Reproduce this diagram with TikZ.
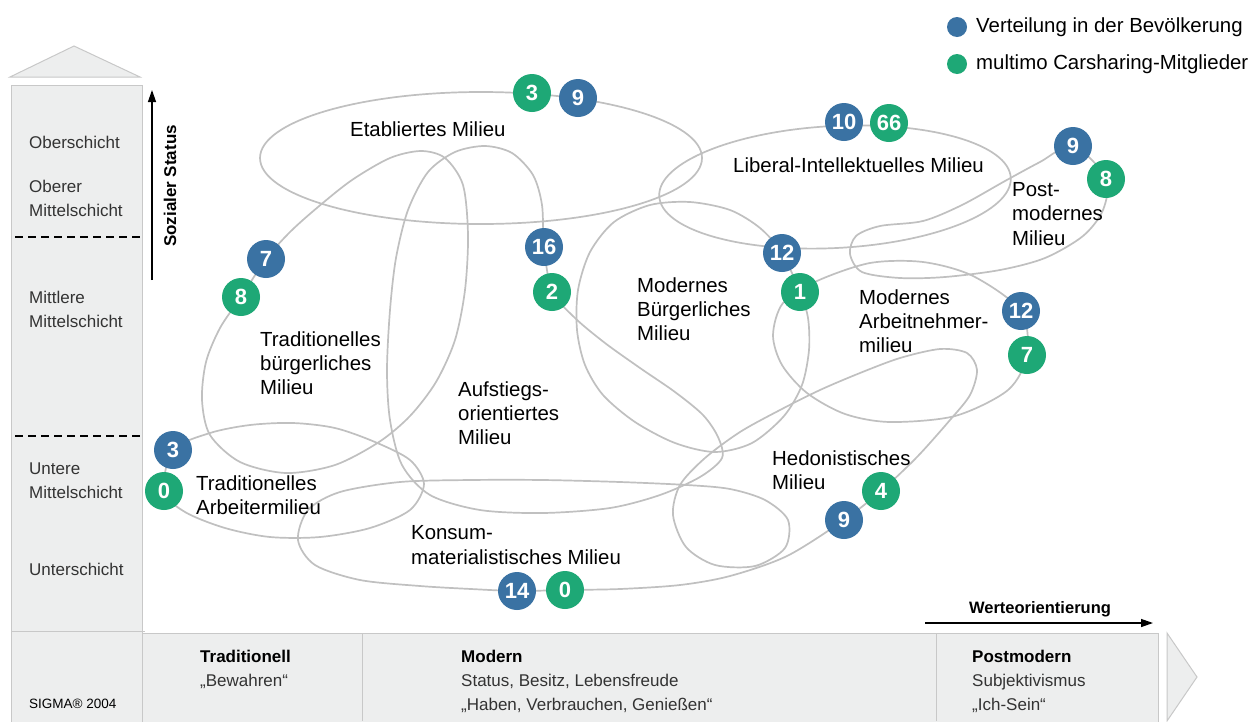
\documentclass[tikz,border=0pt]{standalone}
\usepackage{fontspec}
\setmainfont{Liberation Sans}
\usetikzlibrary{arrows.meta}
\definecolor{cblue}{RGB}{58,114,163}
\definecolor{cgreen}{RGB}{30,168,118}
\definecolor{panel}{RGB}{237,238,238}
\definecolor{panelline}{RGB}{200,200,200}
\definecolor{loopc}{RGB}{192,192,192}
\definecolor{sidetext}{RGB}{51,51,51}
\begin{document}
\begin{tikzpicture}[x=1pt,y=-1pt,
  milieuline/.style={draw=loopc, line width=1.7pt},
  num/.style={circle, minimum size=38pt, inner sep=0pt, text=white, font=\bfseries\fontsize{22}{22}\selectfont},
  bnum/.style={num, fill=cblue},
  gnum/.style={num, fill=cgreen},
  lbl/.style={anchor=west, align=left, inner sep=0pt, font=\fontsize{20.4}{24.2}\selectfont},
  side/.style={anchor=west, align=left, inner sep=0pt, text=sidetext, font=\fontsize{17}{24.5}\selectfont},
  band/.style={anchor=west, align=left, inner sep=0pt, text=sidetext, font=\fontsize{17}{24}\selectfont},
  panelbox/.style={fill=panel, draw=panelline, line width=1pt},
  axis/.style={line width=1.3pt, -{Triangle[length=12pt,width=8pt]}},
  legdot/.style={circle, minimum size=20pt, inner sep=0pt}
]
\useasboundingbox (0,0) rectangle (1260,721);
\fill[white] (0,0) rectangle (1260,721);

% left column
\draw[panelbox] (10,77) -- (74,46) -- (140,77) -- cycle;
\draw[panelbox] (11,85) rectangle (142,726);
\draw[panelline, line width=1pt] (11,631) -- (145,631);
\draw[black, line width=1.6pt, dash pattern=on 8pt off 5pt] (15,237) -- (142,237);
\draw[black, line width=1.6pt, dash pattern=on 8pt off 5pt] (15,436) -- (142,436);
\node[side] (ober) at (29,142) {Oberschicht};
\node[side] (oberer) at (29,198.5) {Oberer\\Mittelschicht};
\node[side] (mittlere) at (29,309.5) {Mittlere\\Mittelschicht};
\node[side] (untere) at (29,480.5) {Untere\\Mittelschicht};
\node[side] (unter) at (29,569) {Unterschicht};
\node[side, font=\fontsize{13.5}{16}\selectfont, text=black] (sigma) at (29,704) {SIGMA® 2004};

% vertical axis
\coordinate (vs) at (152,280);
\coordinate (ve) at (152,90);
\draw[axis] (vs) -- (ve);
\node[rotate=90, inner sep=0pt, font=\bfseries\fontsize{17}{20}\selectfont] (sozial) at (170,186) {Sozialer Status};

% bottom band
\draw[panelbox] (142,633) rectangle (1158,726);
\draw[panelline, line width=1pt] (362,633) -- (362,721);
\draw[panelline, line width=1pt] (936,633) -- (936,721);
\draw[panelbox] (1167,633) -- (1197,677) -- (1167,721) -- cycle;
\node[band] (trad) at (200,669) {\textcolor{black}{\bfseries Traditionell}\\„Bewahren“};
\node[band] (modern) at (461,681) {\textcolor{black}{\bfseries Modern}\\Status, Besitz, Lebensfreude\\„Haben, Verbrauchen, Genießen“};
\node[band] (postm) at (972,681) {\textcolor{black}{\bfseries Postmodern}\\Subjektivismus\\„Ich-Sein“};
\coordinate (hs) at (925,623);
\coordinate (he) at (1153,623);
\draw[axis] (hs) -- (he);
\node[inner sep=0pt, font=\bfseries\fontsize{16.5}{20}\selectfont] (werte) at (1040,609) {Werteorientierung};

% legend
\node[legdot, fill=cblue] (lb) at (957,27) {};
\node[legdot, fill=cgreen] (lg) at (957,64) {};
\node[lbl] (lbt) at (976,27) {Verteilung in der Bevölkerung};
\node[lbl] (lgt) at (976,64) {multimo Carsharing-Mitglieder};

% milieu loops
\draw[milieuline] (481,158) ellipse [x radius=221, y radius=66];
\draw[milieuline, rotate around={3:(835,187)}] (835,187) ellipse [x radius=176, y radius=61];
% traditionelles buergerliches
\draw[milieuline] plot[smooth cycle] coordinates {(266,259) (241,297) (220,328) (206,362) (202,400) (210,435) (240,462) (286,473) (335,465) (379,442) (410,416) (436,382) (455,340) (465,290) (468,235) (463,185) (445,158) (421,151) (390,158) (352,180) (318,207) (290,232)};
% aufstiegsorientiert
\draw[milieuline] plot[smooth cycle] coordinates {(544,247) (552,291) (575,318) (605,343) (640,368) (675,392) (703,415) (718,437) (722,458) (700,477) (660,495) (610,508) (543,513) (480,510) (430,495) (402,465) (390,420) (387,370) (390,310) (396,258) (408,210) (428,172) (455,152) (485,146) (512,153) (533,175) (542,205)};
% modernes buergerliches
\draw[milieuline] plot[smooth cycle] coordinates {(782,253) (760,228) (730,210) (690,202) (650,205) (614,222) (590,252) (578,290) (577,330) (585,365) (603,395) (635,422) (675,443) (715,452) (752,443) (784,416) (802,385) (809,350) (808,318) (800,292)};
% modernes arbeitnehmer
\draw[milieuline] plot[smooth cycle] coordinates {(783,303) (817,281) (870,263) (923,262) (973,276) (1021,311) (1027,355) (1008,390) (955,416) (890,422) (845,414) (807,393) (782,365) (773,335)};
% postmodern
\draw[milieuline] plot[smooth cycle] coordinates {(1073,146) (1040,162) (1005,181) (962,205) (923,221) (880,226) (856,236) (850,254) (862,272) (900,278) (945,277) (1000,270) (1045,258) (1083,236) (1103,210) (1106,178)};
% traditionelles arbeiter
\draw[milieuline] plot[smooth cycle] coordinates {(173,450) (210,433) (250,425) (293,423) (335,428) (375,442) (410,460) (424,484) (410,510) (370,528) (320,537) (270,537) (225,528) (185,512) (164,491)};
% konsum / hedonistisch
\draw[milieuline] plot[smooth cycle] coordinates {(517,591) (565,590) (620,589) (680,585) (730,576) (787,556) (844,520) (881,491) (917,457) (950,420) (970,395) (977,370) (967,353) (940,349) (900,358) (860,373) (820,390) (780,410) (740,432) (705,458) (680,485) (673,515) (686,547) (715,565) (755,566) (785,548) (788,520) (765,500) (730,489) (687,485) (620,482) (543,480) (470,480) (400,482) (340,492) (308,510) (298,540) (315,565) (360,580) (420,586) (471,589)};

% labels
\node[lbl] (etab) at (350,129) {Etabliertes Milieu};
\node[lbl] (lib) at (733,165) {Liberal-Intellektuelles Milieu};
\node[lbl] (post) at (1012,214) {Post-\\modernes\\Milieu};
\node[lbl] (mbm) at (637,309) {Modernes\\Bürgerliches\\Milieu};
\node[lbl] (mam) at (859,321) {Modernes\\Arbeitnehmer-\\milieu};
\node[lbl] (tbm) at (260,363) {Traditionelles\\bürgerliches\\Milieu};
\node[lbl] (aom) at (458,413) {Aufstiegs-\\orientiertes\\Milieu};
\node[lbl] (hed) at (772,470) {Hedonistisches\\Milieu};
\node[lbl] (tam) at (196,495) {Traditionelles\\Arbeitermilieu};
\node[lbl] (kon) at (411,545) {Konsum-\\materialistisches Milieu};

% circles
\node[gnum] (e3) at (532,93) {3};
\node[bnum] (e9) at (578,98) {9};
\node[bnum] (l10) at (844,122) {10};
\node[gnum] (l66) at (889,123) {66};
\node[bnum] (p9) at (1073,146) {9};
\node[gnum] (p8) at (1106,179) {8};
\node[bnum] (a16) at (544,247) {16};
\node[gnum] (a2) at (552,292) {2};
\node[bnum] (m12) at (782,253) {12};
\node[gnum] (m1) at (800,292) {1};
\node[bnum] (t7) at (266,259) {7};
\node[gnum] (t8) at (241,297) {8};
\node[bnum] (n12) at (1021,311) {12};
\node[gnum] (n7) at (1027,355) {7};
\node[bnum] (ta3) at (173,450) {3};
\node[gnum] (ta0) at (164,491) {0};
\node[gnum] (h4) at (881,491) {4};
\node[bnum] (h9) at (844,520) {9};
\node[bnum] (k14) at (517,591) {14};
\node[gnum] (k0) at (565,590) {0};
\end{tikzpicture}
\end{document}
